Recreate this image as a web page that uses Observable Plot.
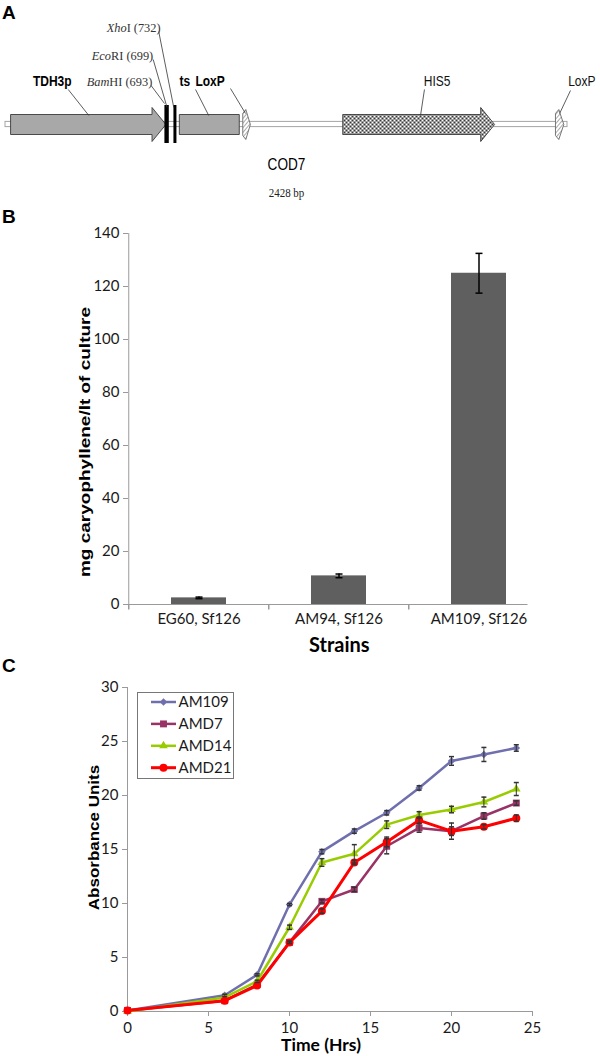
<!DOCTYPE html>
<html>
<head>
<meta charset="utf-8">
<script src="https://cdn.jsdelivr.net/npm/d3@7"></script>
<script src="https://cdn.jsdelivr.net/npm/@observablehq/plot@0.6"></script>
<style>
  body { margin: 0; background: #fff; }
  #fig { position: relative; width: 600px; height: 1056px; overflow: hidden; background: #fff; }
  #fig > svg { display: block; }
</style>
</head>
<body>
<div id="fig"></div>
<script>
// ================= DATA =================
// Panel A: COD7 construct map (positions in bp)
const constructName = "COD7";
const constructLength = 2428;
const featureNames = ["TDH3p", "ts", "LoxP", "HIS5", "LoxP"];
const featureStart = [22, 751, 1025, 1457, 2376];
const featureEnd   = [693, 1010, 1058, 2113, 2412];
const featureKind  = ["arrow", "box", "loxp", "arrow", "loxp"];
const siteNames     = ["BamHI", "EcoRI", "XhoI"];
const sitePositions = [693, 699, 732];

// Panel B: caryophyllene production
const strains = ["EG60, Sf126", "AM94, Sf126", "AM109, Sf126"];
const caryophyllene    = [2.5, 10.8, 125];
const caryophylleneErr = [0.3, 0.7, 7.5];
const caryTicks = [0, 20, 40, 60, 80, 100, 120, 140];

// Panel C: growth curves
const hours = [0, 6, 8, 10, 12, 14, 16, 18, 20, 22, 24];
const seriesNames = ["AM109", "AMD7", "AMD14", "AMD21"];
const am109 = [0.1, 1.5, 3.4, 9.9, 14.8, 16.7, 18.4, 20.7, 23.2, 23.8, 24.4];
const amd7  = [0.1, 1.0, 2.5, 6.4, 10.2, 11.3, 15.3, 17.0, 16.7, 18.1, 19.3];
const amd14 = [0.0, 1.3, 2.8, 7.8, 13.8, 14.6, 17.3, 18.2, 18.7, 19.4, 20.6];
const amd21 = [0.1, 1.0, 2.4, 6.4, 9.3, 13.8, 15.7, 17.7, 16.7, 17.1, 17.9];
const am109Err = [0, 0.1, 0.1, 0.1, 0.2, 0.2, 0.2, 0.2, 0.4, 0.65, 0.3];
const amd7Err  = [0, 0, 0, 0.1, 0.15, 0.2, 0.7, 0.4, 0.75, 0.3, 0.2];
const amd14Err = [0, 0, 0.1, 0.2, 0.35, 0.85, 0.35, 0.3, 0.3, 0.45, 0.6];
const amd21Err = [0, 0, 0, 0.1, 0.2, 0.2, 0.45, 0.3, 0.4, 0.2, 0.3];
const hourTicks = [0, 5, 10, 15, 20, 25];
const absTicks = [0, 5, 10, 15, 20, 25, 30];

// ================= STYLE / LAYOUT =================
const sans = '"Liberation Sans", Arial, Helvetica, sans-serif';
const serif = '"Liberation Serif", "DejaVu Serif", "Times New Roman", serif';
const calib = 'Lato, "Open Sans", "Noto Sans", sans-serif';
const axisGray = "#9a9a9a";
const textDark = "#1a1a1a";

const fig = document.getElementById("fig");

// custom symbols (size = PI r^2)
const capSym = {draw(ctx, size) { const w = Math.sqrt(size / Math.PI); ctx.moveTo(-w, 0); ctx.lineTo(w, 0); }};
const vtickSym = {draw(ctx, size) { const l = Math.sqrt(size / Math.PI); ctx.moveTo(0, 0); ctx.lineTo(0, l); }};

// horizontally condense text glyphs (the figure's text is narrow)
function condense(textNode, factor) {
  const len = textNode.getComputedTextLength();
  if (len > 0) {
    textNode.setAttribute("textLength", (len * factor).toFixed(2));
    textNode.setAttribute("lengthAdjust", "spacingAndGlyphs");
  }
}
function squashRotated(svg, label, factor) {
  d3.select(svg).selectAll("text").each(function() {
    if (this.textContent !== label) return;
    const t = this.getAttribute("transform");
    if (t && t.includes("rotate")) this.setAttribute("transform", t + ` scale(1,${factor})`);
  });
}

// ================= PANEL A =================
const headBp = 60, bodyHalf = 10, headHalf = 17, siteHalf = 19, backboneHalf = 2.6;
const featureFill = {TDH3p: "#a8a8a8", ts: "#a8a8a8", LoxP: "url(#hatchA)", HIS5: "url(#meshA)"};
const featureStroke = {TDH3p: "#3a3a3a", ts: "#3a3a3a", LoxP: "#6a6a6a", HIS5: "#3a3a3a"};
function outline(kind, s, e) {
  if (kind === "arrow") {
    const hs = e - headBp;
    return [[s, -bodyHalf], [hs, -bodyHalf], [hs, -headHalf], [e, 0], [hs, headHalf], [hs, bodyHalf], [s, bodyHalf], [s, -bodyHalf]];
  }
  if (kind === "box") return [[s, -bodyHalf], [e, -bodyHalf], [e, bodyHalf], [s, bodyHalf], [s, -bodyHalf]];
  const m = s + (e - s) * 0.4;
  return [[s, -11], [m, -15], [e, 0], [m, 15], [s, 11], [s, -11]];
}
// annotation layout (label position / leader line, in bp and px above backbone)
const featureLabelLayout = [
  {i: 0, x: 202, y: 43, bold: true,  lx1: 271, ly1: 35, lx2: 360, ly2: 9},
  {i: 1, x: 775, y: 43, bold: true,  lx1: 821, ly1: 35, lx2: 878, ly2: 9},
  {i: 2, x: 884, y: 43, bold: true,  lx1: 972, ly1: 36, lx2: 1037, ly2: 11},
  {i: 3, x: 1865, y: 43, bold: false, lx1: 1810, ly1: 35, lx2: 1793, ly2: 9},
  {i: 4, x: 2490, y: 43, bold: false, lx1: 2441, ly1: 34, lx2: 2394, ly2: 11}
];
const siteLabelLayout = [
  {i: 0, x: 634, y: 43,  lx1: 629, ly1: 39, lx2: 687, ly2: 21},
  {i: 1, x: 638, y: 69,  lx1: 638, ly1: 65, lx2: 698, ly2: 17},
  {i: 2, x: 670, y: 96.5, lx1: 662, ly1: 93, lx2: 727, ly2: 17}
];

const featureMarks = featureNames.map((name, i) =>
  Plot.line(outline(featureKind[i], featureStart[i], featureEnd[i]), {
    x: d => d[0], y: d => d[1], fill: featureFill[name], stroke: featureStroke[name],
    strokeWidth: 0.9, strokeLinejoin: "miter", strokeLinecap: "butt"
  })
);
const leaders = [...featureLabelLayout, ...siteLabelLayout];

const svgA = Plot.plot({
  width: 600, height: 200,
  marginTop: 0, marginBottom: 0, marginLeft: 5, marginRight: 33,
  x: {domain: [0, constructLength], axis: null},
  y: {domain: [-76, 124], axis: null},
  style: {background: "white", overflow: "visible"},
  marks: [
    Plot.rect([constructLength], {x1: () => 0, x2: d => d, y1: () => -backboneHalf, y2: () => backboneHalf, fill: "#fff", stroke: "#a5a5a5", strokeWidth: 1}),
    ...featureMarks,
    Plot.ruleX(sitePositions, {x: d => d, y1: () => -siteHalf, y2: () => siteHalf, stroke: "#000", strokeWidth: 3}),
    Plot.link(leaders, {x1: "lx1", y1: "ly1", x2: "lx2", y2: "ly2", stroke: "#333", strokeWidth: 0.8}),
    Plot.text(featureLabelLayout.filter(d => d.bold), {x: "x", y: "y", text: d => featureNames[d.i], fontFamily: sans, fontWeight: "bold", fontSize: 15, fill: "#000", lineAnchor: "middle"}),
    Plot.text(featureLabelLayout.filter(d => !d.bold), {x: "x", y: "y", text: d => featureNames[d.i], fontFamily: sans, fontSize: 15, fill: "#111", lineAnchor: "middle"}),
    Plot.text(siteLabelLayout, {x: "x", y: "y", text: d => `${siteNames[d.i]} (${sitePositions[d.i]})`, textAnchor: "end", fontFamily: serif, fontSize: 13, fill: "#333", lineAnchor: "middle"}),
    Plot.text([constructName], {x: () => constructLength / 2, y: () => -40, text: d => d, fontFamily: sans, fontSize: 17, fill: "#000", lineAnchor: "middle"}),
    Plot.text([constructLength], {x: d => d / 2, y: () => -69, text: d => `${d} bp`, fontFamily: serif, fontSize: 11.5, fill: "#222", lineAnchor: "middle"})
  ]
});
// patterns
const defs = d3.select(svgA).insert("defs", ":first-child");
const hatch = defs.append("pattern").attr("id", "hatchA").attr("patternUnits", "userSpaceOnUse")
  .attr("width", 3).attr("height", 3).attr("patternTransform", "rotate(40)");
hatch.append("rect").attr("width", 3).attr("height", 3).attr("fill", "#fff");
hatch.append("line").attr("x1", 0).attr("y1", 0).attr("x2", 0).attr("y2", 3).attr("stroke", "#444").attr("stroke-width", 0.9);
const mesh = defs.append("pattern").attr("id", "meshA").attr("patternUnits", "userSpaceOnUse")
  .attr("width", 4).attr("height", 4);
mesh.append("rect").attr("width", 4).attr("height", 4).attr("fill", "#fff");
mesh.append("path").attr("d", "M0,0L4,4M4,0L0,4").attr("stroke", "#222").attr("stroke-width", 0.9);
// italic enzyme prefixes
d3.select(svgA).selectAll("text").each(function() {
  const m = /^(Bam|Eco|Xho)(\S+)( \(\d+\))$/.exec(this.textContent);
  if (!m) return;
  const sel = d3.select(this);
  sel.text(null);
  sel.append("tspan").attr("font-style", "italic").text(m[1]);
  sel.append("tspan").text(m[2] + m[3]);
});
fig.appendChild(svgA);
d3.select(svgA).selectAll("text").each(function() {
  const isSerif = /\(\d+\)| bp$/.test(this.textContent);
  condense(this, isSerif ? 0.95 : 0.8);
});

// ================= PANEL B =================
const bWidth = 600, bHeight = 455, bLeft = 128, bRight = 50.5;
const stepB = (bWidth - bLeft - bRight) / strains.length;
const barRows = strains.map((s, i) => ({strain: s, value: caryophyllene[i], err: caryophylleneErr[i]}));
const bTitle = "mg caryophyllene/lt of culture";
const svgB = Plot.plot({
  width: bWidth, height: bHeight,
  marginTop: 33, marginBottom: 51, marginLeft: bLeft, marginRight: bRight,
  x: {domain: strains, paddingInner: 0.605, paddingOuter: 0.3025, align: 0.5, axis: null, label: null},
  y: {domain: [0, 140], axis: null, label: null},
  style: {fontFamily: calib, fontSize: "15px", color: textDark, background: "white", overflow: "visible"},
  marks: [
    Plot.barY(barRows, {x: "strain", y: "value", fill: "#5f5f5f"}),
    Plot.ruleX(barRows, {x: "strain", y1: d => d.value - d.err, y2: d => d.value + d.err, stroke: "#000", strokeWidth: 1.5}),
    Plot.dot(barRows, {x: "strain", y: d => d.value + d.err, symbol: capSym, r: 3.5, stroke: "#000", strokeWidth: 1.5, fill: "none"}),
    Plot.dot(barRows, {x: "strain", y: d => d.value - d.err, symbol: capSym, r: 3.5, stroke: "#000", strokeWidth: 1.5, fill: "none"}),
    Plot.ruleY([0], {stroke: axisGray, strokeWidth: 1, insetRight: 22}),
    Plot.ruleX([strains[0]], {x: d => d, y1: () => 0, y2: () => 140, dx: -stepB / 2, stroke: axisGray, strokeWidth: 1}),
    Plot.dot(strains, {x: d => d, y: () => 0, symbol: vtickSym, r: 5, dx: -stepB / 2, stroke: axisGray, fill: "none"}),
    Plot.axisY({ticks: caryTicks, label: null, tickSize: 5, tickPadding: 4, stroke: axisGray, fill: textDark, fontSize: 15}),
    Plot.axisX({label: null, tickSize: 0, tickPadding: 9, fill: textDark, fontSize: 15}),
    Plot.text([bTitle], {text: d => d, frameAnchor: "left", rotate: -90, dx: -43.5, dy: 23, textAnchor: "middle", lineAnchor: "middle", fontFamily: sans, fontWeight: "bold", fontSize: 19, fill: "#000"}),
    Plot.text(["Strains"], {text: d => d, frameAnchor: "bottom", dy: 41, lineAnchor: "middle", fontFamily: calib, fontWeight: "bold", fontSize: 20, fill: "#000"})
  ]
});
fig.appendChild(svgB);
squashRotated(svgB, bTitle, 0.8);

// ================= PANEL C =================
const seriesValues = [am109, amd7, amd14, amd21];
const seriesErrs = [am109Err, amd7Err, amd14Err, amd21Err];
const seriesColor = ["#6F6FAE", "#993366", "#99CC00", "#FF0000"];
const seriesSymbol = ["diamond2", "square", "triangle", "circle"];
const seriesR = [3.4, 3.9, 3.2, 4];
const seriesWidth = [2.5, 2.5, 2.5, 3];
const rowsBySeries = seriesNames.map((name, k) => hours.map((h, i) => ({series: name, hour: h, value: seriesValues[k][i], err: seriesErrs[k][i]})));
const allRows = rowsBySeries.flat().filter(d => d.err > 0);
const cTitle = "Absorbance Units";

const seriesMarks = rowsBySeries.flatMap((rows, k) => [
  Plot.line(rows, {x: "hour", y: "value", stroke: seriesColor[k], strokeWidth: seriesWidth[k], strokeLinejoin: "round"}),
  Plot.dot(rows, {x: "hour", y: "value", symbol: seriesSymbol[k], r: seriesR[k], fill: seriesColor[k], stroke: "none"})
]);

const svgC = Plot.plot({
  width: 600, height: 401,
  marginTop: 32, marginBottom: 45, marginLeft: 127, marginRight: 68,
  x: {domain: [0, 25], axis: null, label: null},
  y: {domain: [0, 30], axis: null, label: null},
  style: {fontFamily: calib, fontSize: "15px", color: textDark, background: "white", overflow: "visible"},
  marks: [
    Plot.ruleX([0], {stroke: axisGray}),
    Plot.ruleY([0], {stroke: axisGray}),
    Plot.axisY({ticks: absTicks, label: null, tickSize: 5, tickPadding: 4, stroke: axisGray, fill: textDark, fontSize: 15}),
    Plot.axisX({ticks: hourTicks, label: null, tickSize: 5, tickPadding: 6, stroke: axisGray, fill: textDark, fontSize: 15}),
    ...seriesMarks,
    Plot.ruleX(allRows, {x: "hour", y1: d => d.value - d.err, y2: d => d.value + d.err, stroke: "#333", strokeWidth: 1}),
    Plot.dot(allRows, {x: "hour", y: d => d.value + d.err, symbol: capSym, r: 2.5, stroke: "#333", fill: "none"}),
    Plot.dot(allRows, {x: "hour", y: d => d.value - d.err, symbol: capSym, r: 2.5, stroke: "#333", fill: "none"}),
    Plot.text([cTitle], {text: d => d, frameAnchor: "left", rotate: -90, dx: -33, dy: -12, textAnchor: "middle", lineAnchor: "middle", fontFamily: sans, fontWeight: "bold", fontSize: 17, fill: "#000"}),
    Plot.text(["Time (Hrs)"], {text: d => d, frameAnchor: "bottom", dx: -9, dy: 34, lineAnchor: "middle", fontFamily: calib, fontWeight: "bold", fontSize: 17.5, fill: "#000"})
  ]
});
fig.appendChild(svgC);
squashRotated(svgC, cTitle, 0.82);

// ================= LEGEND (panel C) =================
const legend = d3.select(fig).append("div")
  .style("position", "absolute").style("left", "137px").style("top", "692px")
  .style("width", "97px").style("height", "87px").style("box-sizing", "border-box")
  .style("border", "1px solid #777").style("background", "#fff");
const lsvg = legend.append("svg").attr("width", 95).attr("height", 85).style("display", "block");
const symMap = {diamond2: d3.symbolDiamond2, square: d3.symbolSquare, triangle: d3.symbolTriangle, circle: d3.symbolCircle};
seriesNames.forEach((name, k) => {
  const cy = 9 + k * 21.9;
  const g = lsvg.append("g");
  g.append("line").attr("x1", 13).attr("x2", 38).attr("y1", cy).attr("y2", cy)
    .attr("stroke", seriesColor[k]).attr("stroke-width", seriesWidth[k]);
  g.append("path").attr("transform", `translate(25.5,${cy})`)
    .attr("d", d3.symbol(symMap[seriesSymbol[k]], Math.PI * seriesR[k] * seriesR[k])())
    .attr("fill", seriesColor[k]);
  g.append("text").attr("x", 40.5).attr("y", cy).attr("dy", "0.35em")
    .attr("font-family", calib).attr("font-size", 15).attr("fill", textDark).text(name);
});

// ================= PANEL LETTERS =================
const overlay = d3.select(fig).append("svg")
  .attr("width", 600).attr("height", 1056)
  .style("position", "absolute").style("left", 0).style("top", 0).style("pointer-events", "none");
[["A", 18.5], ["B", 223], ["C", 671.5]].forEach(([t, y]) => {
  overlay.append("text").attr("x", 2).attr("y", y).attr("font-family", sans)
    .attr("font-weight", "bold").attr("font-size", 19).attr("fill", "#000").text(t);
});
</script>
</body>
</html>
